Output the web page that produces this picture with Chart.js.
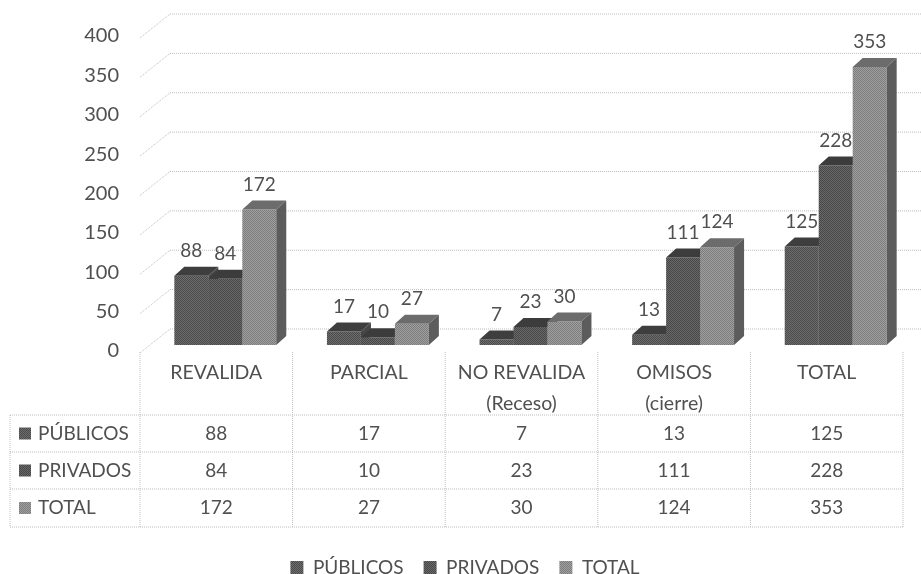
<!DOCTYPE html>
<html>
<head>
<meta charset="utf-8">
<title>Revalida</title>
<script src="https://cdn.jsdelivr.net/npm/chart.js@4"></script>
<style>
  html, body { margin: 0; padding: 0; background: #fff; }
  #box { width: 921px; height: 574px; }
</style>
</head>
<body>
<div id="box"><canvas id="chart" width="921" height="574"></canvas></div>
<script>
const categories = ["REVALIDA", "PARCIAL", ["NO REVALIDA", "(Receso)"], ["OMISOS", "(cierre)"], "TOTAL"];
const seriesNames = ["PÚBLICOS", "PRIVADOS", "TOTAL"];
const publicos = [88, 17, 7, 13, 125];
const privados = [84, 10, 23, 111, 228];
const total = [172, 27, 30, 124, 353];

const fontName = "Lato";
const textColor = "#505050";
const lineColor = "#bdbdbd";

// fine halftone, the original is a printed scan
function halftone(dark, light) {
  const c = document.createElement("canvas");
  c.width = 2;
  c.height = 2;
  const g = c.getContext("2d");
  g.fillStyle = light;
  g.fillRect(0, 0, 2, 2);
  g.fillStyle = dark;
  g.fillRect(0, 0, 1, 1);
  g.fillRect(1, 1, 1, 1);
  return g.createPattern(c, "repeat");
}

const faces = [
  { front: halftone("#4a4a4a", "#6e6e6e"), top: "#3e3e3e", side: "#474747" },
  { front: halftone("#464646", "#6a6a6a"), top: "#3c3c3c", side: "#474747" },
  { front: halftone("#7c7c7c", "#a0a0a0"), top: "#6c6c6c", side: "#5c5c5c" },
];

function dottedLine(ctx, x1, y1, x2, y2) {
  ctx.beginPath();
  ctx.moveTo(x1, y1);
  ctx.lineTo(x2, y2);
  ctx.stroke();
}

// back wall: slanted piece on the left, then a line running to the right edge
const wallPlugin = {
  id: "wall",
  beforeDatasetsDraw(chart) {
    const ctx = chart.ctx;
    const y = chart.scales.y;
    const left = chart.chartArea.left;
    ctx.save();
    ctx.strokeStyle = lineColor;
    ctx.lineWidth = 1;
    ctx.setLineDash([1, 1]);
    y.ticks.forEach((t) => {
      const py = y.getPixelForValue(t.value);
      dottedLine(ctx, left - 9, py + 8, left + 21, py - 16);
      dottedLine(ctx, left + 21, py - 16, chart.width, py - 16);
    });
    ctx.restore();
  },
};

// bars have to go first to last so each one hides the side of its neighbour
const depthPlugin = {
  id: "depth",
  beforeDatasetDraw() {
    return false;
  },
  afterDatasetsDraw(chart) {
    const ctx = chart.ctx;
    const dx = 10;
    const dy = 9;
    ctx.save();
    chart.data.datasets.forEach((ds, d) => {
      const face = faces[d];
      chart.getDatasetMeta(d).data.forEach((bar) => {
        bar.draw(ctx);
        const l = bar.x - bar.width / 2;
        const r = bar.x + bar.width / 2;
        ctx.fillStyle = face.top;
        ctx.beginPath();
        ctx.moveTo(l, bar.y);
        ctx.lineTo(l + dx, bar.y - dy);
        ctx.lineTo(r + dx, bar.y - dy);
        ctx.lineTo(r, bar.y);
        ctx.closePath();
        ctx.fill();
        ctx.fillStyle = face.side;
        ctx.beginPath();
        ctx.moveTo(r, bar.y);
        ctx.lineTo(r + dx, bar.y - dy);
        ctx.lineTo(r + dx, bar.base - dy);
        ctx.lineTo(r, bar.base);
        ctx.closePath();
        ctx.fill();
      });
    });
    ctx.restore();
  },
};

// value labels over the bars and the data table under the plot
const textPlugin = {
  id: "texts",
  afterDatasetsDraw(chart) {
    const ctx = chart.ctx;
    const x = chart.scales.x;
    ctx.save();
    ctx.font = "19px " + fontName;
    ctx.fillStyle = textColor;
    ctx.textAlign = "center";
    ctx.textBaseline = "middle";
    chart.data.datasets.forEach((ds, d) => {
      chart.getDatasetMeta(d).data.forEach((bar, i) => {
        ctx.fillText(ds.data[i], bar.x, bar.y - 25);
      });
    });

    const rows = [415, 452, 489, 527];
    const colW = x.width / categories.length;
    const center = (i) => x.getPixelForTick(i) - 9;
    const tableLeft = 10;
    const tableRight = center(categories.length - 1) + colW / 2;

    ctx.strokeStyle = lineColor;
    ctx.lineWidth = 1;
    ctx.setLineDash([1, 1]);
    rows.forEach((r) => dottedLine(ctx, tableLeft, r, tableRight, r));
    dottedLine(ctx, tableLeft, rows[0], tableLeft, rows[3]);
    for (let i = 0; i <= categories.length; i++) {
      const vx = center(0) - colW / 2 + i * colW;
      dottedLine(ctx, vx, 352, vx, rows[3]);
    }
    ctx.setLineDash([]);

    chart.data.datasets.forEach((ds, d) => {
      const cy = (rows[d] + rows[d + 1]) / 2;
      ctx.fillStyle = faces[d].front;
      ctx.fillRect(19, cy - 6, 12, 12);
      ctx.fillStyle = textColor;
      ctx.textAlign = "left";
      ctx.fillText(seriesNames[d], 38, cy);
      ctx.textAlign = "center";
      ds.data.forEach((v, i) => ctx.fillText(v, center(i), cy));
    });
    ctx.restore();
  },
};

new Chart(document.getElementById("chart"), {
  type: "bar",
  data: {
    labels: categories,
    datasets: [
      { label: seriesNames[0], data: publicos, backgroundColor: faces[0].front },
      { label: seriesNames[1], data: privados, backgroundColor: faces[1].front },
      { label: seriesNames[2], data: total, backgroundColor: faces[2].front },
    ],
  },
  plugins: [wallPlugin, depthPlugin, textPlugin],
  options: {
    responsive: false,
    animation: false,
    layout: { autoPadding: false, padding: { top: 30, left: 18, right: 9, bottom: -13 } },
    datasets: { bar: { barPercentage: 1, categoryPercentage: 0.668 } },
    plugins: {
      tooltip: { enabled: false },
      legend: {
        position: "bottom",
        labels: {
          boxWidth: 13,
          boxHeight: 13,
          padding: 20,
          color: textColor,
          font: { family: fontName, size: 19 },
        },
      },
    },
    scales: {
      x: {
        afterFit: (s) => { s.height = 193; },
        grid: { display: false, drawTicks: false },
        border: { display: false },
        ticks: {
          autoSkip: false,
          maxRotation: 0,
          padding: 13,
          labelOffset: -9,
          color: textColor,
          font: { family: fontName, size: 19.5, lineHeight: 1.55 },
        },
      },
      y: {
        min: 0,
        max: 400,
        // tick padding would otherwise be pushed into the top of the plot
        afterFit: (s) => {
          s.width = 131;
          s.paddingTop = 0;
          s.paddingBottom = 0;
        },
        grid: { display: false, drawTicks: false },
        border: { display: false },
        ticks: {
          stepSize: 50,
          padding: 30,
          labelOffset: 6,
          color: textColor,
          font: { family: fontName, size: 20 },
        },
      },
    },
  },
});
</script>
</body>
</html>
